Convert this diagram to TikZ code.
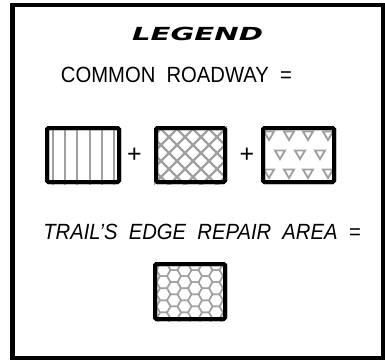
\documentclass[tikz,border=0pt]{standalone}
\usepackage{fontspec}
\setmainfont{Liberation Sans}
\newfontfamily\legendfont{DejaVu Sans}
\definecolor{patgray}{RGB}{160,160,160}
\begin{document}
\begin{tikzpicture}[x=1pt,y=-1pt,
  swatch/.style={draw, line width=4pt, rounded corners=1.5pt, inner sep=0pt},
  pat/.style={draw=patgray, line width=2pt},
  title/.style={font=\legendfont\fontsize{18}{18}\selectfont\bfseries\itshape, xscale=1.62, inner sep=0pt},
  label/.style={font=\fontsize{22}{22}\selectfont, xscale=0.92, inner sep=0pt},
  plus/.style={font=\fontsize{25}{25}\selectfont, inner sep=0pt},
  tri/.pic={\draw[pat, line width=1.9pt, line join=miter] (-5,-4) -- (5,-4) -- (0,4.5) -- cycle;}]
\useasboundingbox (0,0) rectangle (385,360);
\draw[line width=4.5pt] (12.5,5) rectangle (383,358);

\node[title] (legend) at (197.5,34) {LEGEND};
\node[label] (common) at (176.5,75) {COMMON\ \ ROADWAY\ \ =};
\node[label, font=\fontsize{22}{22}\selectfont\itshape] (trail) at (202,231.5) {TRAIL'S\ \ EDGE\ \ REPAIR\ \ AREA\ \ =};

% swatch 1: vertical lines
\node[swatch, minimum width=72pt, minimum height=54pt] (b1) at (83,155) {};
\begin{scope}
  \clip (b1.south west) rectangle (b1.north east);
  \foreach \x in {52.7,65,77.3,89.6,101.9,114.2}
    \draw[pat] (\x,120) -- (\x,190);
\end{scope}
\node[swatch, minimum width=72pt, minimum height=54pt] at (b1) {};

\node[plus] (p1) at (134.5,155) {+};

% swatch 2: crosshatch
\node[swatch, minimum width=69pt, minimum height=54pt] (b2) at (190.5,155) {};
\begin{scope}
  \clip (b2.south west) rectangle (b2.north east);
  \foreach \k in {-6,...,10} {
    \draw[pat, line width=2.3pt] (100+\k*16,190) -- ++(70,-70);
    \draw[pat, line width=2.3pt] (168+\k*16,120) -- ++(70,70);
  }
\end{scope}
\node[swatch, minimum width=69pt, minimum height=54pt] at (b2) {};

\node[plus] (p2) at (247,155) {+};

% swatch 3: triangles
\node[swatch, minimum width=71pt, minimum height=54pt] (b3) at (298.5,155) {};
\begin{scope}
  \clip (b3.south west) rectangle (b3.north east);
  \foreach \x in {269,289,308,328} {
    \pic at (\x,135.5) {tri};
    \pic at (\x,173.5) {tri};
  }
  \foreach \x in {280,300,320}
    \pic at (\x,154.5) {tri};
\end{scope}
\node[swatch, minimum width=71pt, minimum height=54pt] at (b3) {};

% swatch 4: honeycomb
\node[swatch, minimum width=70pt, minimum height=55pt] (b4) at (190,291.5) {};
\begin{scope}
  \clip (b4.south west) rectangle (b4.north east);
  \foreach \i in {0,...,9} {
    \foreach \j in {-1,...,5} {
      \pgfmathsetmacro{\cx}{153+\i*10.5}
      \pgfmathsetmacro{\cy}{264+\j*12.12+mod(\i,2)*6.06}
      \draw[pat, line width=1.5pt] (\cx,\cy) +(0:7) -- +(60:7) -- +(120:7) -- +(180:7) -- +(240:7) -- +(300:7) -- cycle;
    }
  }
\end{scope}
\node[swatch, minimum width=70pt, minimum height=55pt] at (b4) {};
\end{tikzpicture}
\end{document}
